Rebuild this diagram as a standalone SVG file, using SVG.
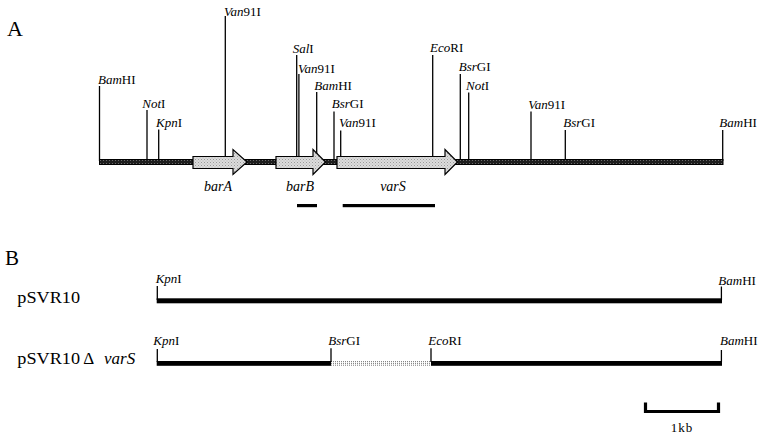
<svg xmlns="http://www.w3.org/2000/svg" width="765" height="439" viewBox="0 0 765 439" font-family="'Liberation Serif', 'Times New Roman', Times, serif">
<style>
text{font-family:'Liberation Serif','Times New Roman',Times,serif;fill:#000}
.site{font-size:13px}
.it{font-style:italic}
.tick{stroke:#000;stroke-width:1.3;fill:none}
.gene{fill:url(#light);stroke:#000;stroke-width:1.2}
.bar{fill:#000}
.panel{font-size:22px}
.gl{font-size:14px;font-style:italic}
.plab{font-size:17px}
</style>
<defs>
<pattern id="dark" width="3" height="3" patternUnits="userSpaceOnUse">
<rect width="3" height="3" fill="#1e1e1e"/>
<rect x="1" y="1" width="1" height="1" fill="#6a6a6a"/>
</pattern>
<pattern id="light" width="3" height="3" patternUnits="userSpaceOnUse">
<rect width="3" height="3" fill="#dcdcdc"/>
<rect x="0" y="0" width="1" height="1" fill="#9a9a9a"/>
<rect x="1.5" y="1.5" width="1" height="1" fill="#b0b0b0"/>
</pattern>
</defs>
<rect width="765" height="439" fill="#fff"/>

<text class="panel" x="7" y="35.5">A</text>

<g id="sitesA">
<g id="a-bam1"><line class="tick" x1="99.5" y1="86" x2="99.5" y2="161"/><text class="site" x="98" y="84"><tspan class="it">Bam</tspan>HI</text></g>
<g id="a-not1"><line class="tick" x1="147" y1="110" x2="147" y2="161"/><text class="site" x="142.3" y="108"><tspan class="it">Not</tspan>I</text></g>
<g id="a-kpn"><line class="tick" x1="158.7" y1="129.5" x2="158.7" y2="161"/><text class="site" x="156" y="127"><tspan class="it">Kpn</tspan>I</text></g>
<g id="a-van1"><line class="tick" x1="225.3" y1="16" x2="225.3" y2="161"/><text class="site" x="224" y="15.5"><tspan class="it">Van</tspan>91I</text></g>
<g id="a-sal"><line class="tick" x1="296.7" y1="55" x2="296.7" y2="161"/><text class="site" x="292.7" y="53"><tspan class="it">Sal</tspan>I</text></g>
<g id="a-van2"><line class="tick" x1="298.9" y1="74" x2="298.9" y2="161"/><text class="site" x="298" y="72.5"><tspan class="it">Van</tspan>91I</text></g>
<g id="a-bam2"><line class="tick" x1="316.7" y1="92" x2="316.7" y2="161"/><text class="site" x="314.3" y="89.5"><tspan class="it">Bam</tspan>HI</text></g>
<g id="a-bsr1"><line class="tick" x1="334" y1="111.5" x2="334" y2="161"/><text class="site" x="331.7" y="108"><tspan class="it">Bsr</tspan>GI</text></g>
<g id="a-van3"><line class="tick" x1="340.7" y1="130.5" x2="340.7" y2="161"/><text class="site" x="339" y="127"><tspan class="it">Van</tspan>91I</text></g>
<g id="a-eco"><line class="tick" x1="432.7" y1="55" x2="432.7" y2="161"/><text class="site" x="430" y="52"><tspan class="it">Eco</tspan>RI</text></g>
<g id="a-bsr2"><line class="tick" x1="460.3" y1="74" x2="460.3" y2="161"/><text class="site" x="458.7" y="71"><tspan class="it">Bsr</tspan>GI</text></g>
<g id="a-not2"><line class="tick" x1="468.7" y1="92.5" x2="468.7" y2="161"/><text class="site" x="466" y="89.5"><tspan class="it">Not</tspan>I</text></g>
<g id="a-van4"><line class="tick" x1="531" y1="111.5" x2="531" y2="161"/><text class="site" x="528.3" y="108.5"><tspan class="it">Van</tspan>91I</text></g>
<g id="a-bsr3"><line class="tick" x1="565.3" y1="130" x2="565.3" y2="161"/><text class="site" x="563.3" y="127"><tspan class="it">Bsr</tspan>GI</text></g>
<g id="a-bam3"><line class="tick" x1="722.7" y1="130" x2="722.7" y2="161"/><text class="site" x="719.3" y="127"><tspan class="it">Bam</tspan>HI</text></g>
</g>

<g id="mapA">
<rect x="99.5" y="159.5" width="623.5" height="5" fill="url(#dark)" stroke="#000" stroke-width="1"/>
</g>

<g id="genes">
<g id="barA"><polygon class="gene" points="193,156.5 233,156.5 233,149.5 247,162 233,174.5 233,168.5 193,168.5"/><text class="gl" x="218" y="191" text-anchor="middle">barA</text></g>
<g id="barB"><polygon class="gene" points="276,156.5 313,156.5 313,149.5 325.5,162 313,174.5 313,168.5 276,168.5"/><text class="gl" x="300" y="191" text-anchor="middle">barB</text></g>
<g id="varS"><polygon class="gene" points="337,156.5 445,156.5 445,149.5 457.5,162 445,174.5 445,168.5 337,168.5"/><text class="gl" x="393" y="191" text-anchor="middle">varS</text></g>
</g>

<g id="probes">
<rect class="bar" x="297" y="204" width="20" height="3.2"/>
<rect class="bar" x="342.7" y="204" width="92.3" height="3.2"/>
</g>

<text class="panel" x="5" y="265" style="font-size:21px">B</text>

<g id="pSVR10">
<text class="plab" x="17.3" y="302.5" textLength="62.7" lengthAdjust="spacingAndGlyphs">pSVR10</text>
<rect class="bar" x="156.7" y="298.3" width="565.3" height="5"/>
<line class="tick" x1="157.3" y1="286" x2="157.3" y2="300"/>
<line class="tick" x1="721.4" y1="286.5" x2="721.4" y2="300"/>
<text class="site" x="155.7" y="283.3"><tspan class="it">Kpn</tspan>I</text>
<text class="site" x="718.3" y="285"><tspan class="it">Bam</tspan>HI</text>
</g>

<g id="pSVR10dvarS">
<text class="plab" x="17.3" y="364"><tspan textLength="62.7" lengthAdjust="spacingAndGlyphs">pSVR10</tspan><tspan x="83.3">Δ</tspan><tspan class="it" x="104">varS</tspan></text>
<rect class="bar" x="156.7" y="361" width="174.3" height="4.8"/>
<rect class="bar" x="431" y="361" width="291" height="4.8"/>
<g stroke="#555" stroke-width="0.8" stroke-dasharray="1,1" fill="none">
<line x1="331" y1="361.6" x2="431" y2="361.6"/>
<line x1="331" y1="363.4" x2="431" y2="363.4"/>
<line x1="331" y1="365.2" x2="431" y2="365.2"/>
</g>
<line class="tick" x1="157.3" y1="349" x2="157.3" y2="362"/>
<line class="tick" x1="331" y1="348.3" x2="331" y2="362"/>
<line class="tick" x1="431" y1="348.3" x2="431" y2="362"/>
<line class="tick" x1="721.4" y1="350" x2="721.4" y2="362"/>
<text class="site" x="153.3" y="345"><tspan class="it">Kpn</tspan>I</text>
<text class="site" x="328.3" y="345"><tspan class="it">Bsr</tspan>GI</text>
<text class="site" x="428.3" y="345"><tspan class="it">Eco</tspan>RI</text>
<text class="site" x="720" y="345"><tspan class="it">Bam</tspan>HI</text>
</g>

<g id="scale">
<path d="M645.5,402.5 V411.5 H718.5 V402.5" fill="none" stroke="#000" stroke-width="3.2"/>
<text class="site" x="682" y="431.5" text-anchor="middle" style="letter-spacing:1px">1kb</text>
</g>
</svg>
